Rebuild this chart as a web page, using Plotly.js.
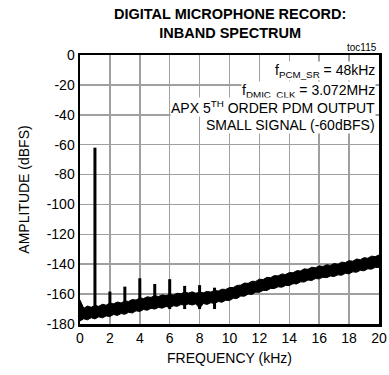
<!DOCTYPE html>
<html><head><meta charset="utf-8">
<script src="https://cdn.plot.ly/plotly-3.0.1.min.js"></script>
<style>html,body{margin:0;padding:0;background:#fff;}#chart{width:389px;height:375px;}</style>
</head><body><div id="chart"></div>
<script>
// Noise floor band (upper and lower envelope, dBFS) vs frequency (kHz)
var freqKHz = [0,0.25,0.5,0.75,1,1.25,1.5,1.75,2,2.25,2.5,2.75,3,3.25,3.5,3.75,4,4.25,4.5,4.75,5,5.25,5.5,5.75,6,6.25,6.5,6.75,7,7.25,7.5,7.75,8,8.25,8.5,8.75,9,9.25,9.5,9.75,10,10.25,10.5,10.75,11,11.25,11.5,11.75,12,12.25,12.5,12.75,13,13.25,13.5,13.75,14,14.25,14.5,14.75,15,15.25,15.5,15.75,16,16.25,16.5,16.75,17,17.25,17.5,17.75,18,18.25,18.5,18.75,19,19.25,19.5,19.75,20];
var floorUpper = [-164,-169.5,-168.0,-168.8,-167.5,-168.2,-166.8,-167.4,-166.0,-166.5,-165.3,-165.9,-164.6,-164.9,-163.6,-164.0,-162.5,-163.0,-161.8,-162.2,-161.0,-161.6,-160.5,-161.0,-160.2,-160.6,-159.4,-159.8,-158.6,-159.3,-158.5,-159.4,-158.7,-159.1,-158.2,-158.6,-157.6,-157.9,-156.7,-156.9,-155.6,-155.6,-154.2,-154.0,-152.6,-152.8,-151.4,-151.5,-150.0,-150.3,-148.8,-149.0,-147.6,-147.8,-146.5,-146.9,-145.6,-145.7,-144.3,-144.5,-143.1,-143.4,-142.0,-142.4,-141.1,-141.5,-140.3,-140.8,-139.5,-140.0,-138.6,-138.9,-137.6,-138.0,-136.5,-137.0,-135.6,-136.0,-134.6,-134.9,-133.8];
var floorLower = [-178,-176.5,-177.2,-175.8,-176.6,-175.2,-175.9,-174.6,-175.0,-173.6,-174.3,-173.0,-173.5,-172.2,-172.6,-171.2,-171.6,-170.3,-170.8,-169.5,-170.0,-168.9,-169.4,-168.3,-168.9,-167.8,-168.2,-167.0,-167.4,-166.6,-167.3,-166.5,-169.5,-166.3,-166.9,-165.8,-166.3,-165.0,-165.4,-164.1,-164.3,-162.8,-162.9,-161.3,-161.4,-160.0,-160.2,-158.7,-158.8,-157.5,-157.6,-156.2,-156.3,-155.1,-155.4,-154.2,-154.3,-153.0,-153.2,-151.8,-151.9,-150.6,-150.9,-149.6,-149.8,-148.7,-149.0,-147.9,-148.2,-147.1,-147.4,-146.1,-146.4,-145.1,-145.4,-144.1,-144.4,-143.1,-143.3,-142.1,-142.2];
// Fundamental and harmonic spikes
var harmonicFreq = [1,2,3,4,5,6,7,8,9];
var harmonicLevel = [-62,-158.3,-155,-149.4,-153.2,-150,-154.5,-154,-155.7];
var xTicks = [0,2,4,6,8,10,12,14,16,18,20];
var yTicks = [0,-20,-40,-60,-80,-100,-120,-140,-160,-180];

var spikeBase = -170;
var sx = [], sy = [];
for (var i = 0; i < harmonicFreq.length; i++) {
  sx.push(harmonicFreq[i], harmonicFreq[i], null);
  sy.push(spikeBase, harmonicLevel[i], null);
}
var FONT = '"Liberation Sans Narrow", "Arial Narrow", "Liberation Sans", Arial, sans-serif';

var traces = [
  {x: freqKHz, y: floorLower, mode: 'lines', line: {color: '#000', width: 1}, hoverinfo: 'skip'},
  {x: freqKHz, y: floorUpper, mode: 'lines', fill: 'tonexty', fillcolor: '#000', line: {color: '#000', width: 1}, hoverinfo: 'skip'},
  {x: sx, y: sy, mode: 'lines', line: {color: '#000', width: 3}, hoverinfo: 'skip'}
];

var ann = function(txt, y) {
  return {xref: 'paper', yref: 'paper', x: 0.99, y: y, xanchor: 'right', yanchor: 'middle', text: txt, showarrow: false,
    bgcolor: '#fff', borderpad: 0, font: {family: FONT, size: 14, color: '#000'}};
};

var layout = {
  width: 389, height: 375,
  margin: {l: 80, r: 10, t: 55, b: 51},
  paper_bgcolor: '#fff', plot_bgcolor: '#fff',
  showlegend: false,
  xaxis: {range: [0, 20], tickvals: xTicks, ticktext: xTicks.map(String), showgrid: true, gridcolor: '#a0a0a0', gridwidth: 1.5,
    zeroline: false, showline: true, linecolor: '#000', linewidth: 2.5, mirror: true, ticks: '', ticklen: 0,
    tickfont: {family: FONT, size: 14, color: '#000'},
    title: {text: 'FREQUENCY (kHz)', standoff: 8, font: {family: FONT, size: 14, color: '#000'}}},
  yaxis: {range: [-180, 0], tickvals: yTicks, ticktext: yTicks.map(String), showgrid: true, gridcolor: '#a0a0a0', gridwidth: 1.5,
    zeroline: false, showline: true, linecolor: '#000', linewidth: 2.5, mirror: true, ticks: '', ticklen: 0,
    tickfont: {family: FONT, size: 14, color: '#000'},
    title: {text: 'AMPLITUDE (dBFS)', standoff: 14, font: {family: FONT, size: 14, color: '#000'}}},
  annotations: [
    {xref: 'paper', yref: 'paper', x: 0.5, y: 1.045, xanchor: 'center', yanchor: 'bottom',
      text: '<b>DIGITAL MICROPHONE RECORD:<br>INBAND SPECTRUM</b>', showarrow: false,
      font: {family: FONT, size: 14.5, color: '#000'}},
    {xref: 'paper', yref: 'paper', x: 1.0, y: 1.0, xanchor: 'right', yanchor: 'bottom', text: 'toc115', showarrow: false,
      font: {family: FONT, size: 10, color: '#000'}},
    ann('f<sub>PCM_SR</sub> = 48kHz', 0.94),
    ann('f<sub>DMIC_CLK</sub> = 3.072MHz', 0.865),
    ann('APX 5<sup>TH</sup> ORDER PDM OUTPUT', 0.807),
    ann('SMALL SIGNAL (-60dBFS)', 0.738)
  ]
};
Plotly.newPlot('chart', traces, layout, {staticPlot: true, displayModeBar: false});
</script></body></html>
